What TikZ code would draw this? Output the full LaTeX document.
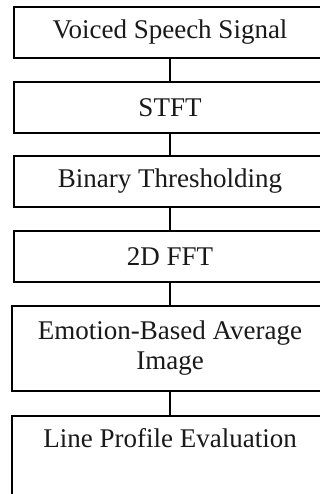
\documentclass[tikz,border=0pt]{standalone}
\usepackage{fontspec}
\setmainfont{Liberation Serif}
\begin{document}
\begin{tikzpicture}[x=1pt,y=-1pt,
  box/.style={draw=black, line width=1.8pt, rectangle, inner sep=0pt, minimum width=312pt, minimum height=51pt, align=center, font=\fontsize{27pt}{30pt}\selectfont, text=black!90},
  lbl/.style={inner sep=0pt, font=\fontsize{27pt}{30pt}\selectfont, text=black!90},
  link/.style={draw=black, line width=1.8pt}]
\clip (0,0) rectangle (320,494);
\fill[white] (0,0) rectangle (320,494);
\node[box] (b1) at (170,32.5) {Voiced Speech Signal};
\node[box] (b2) at (170,107.5) {STFT};
\node[box] (b3) at (170,181.5) {Binary Thresholding};
\node[box] (b4) at (170,256.5) {2D FFT};
\node[box, minimum width=316pt, minimum height=85pt] (b5) at (170,348.5) {Emotion-Based Average\\Image};
\node[box, minimum width=316pt, minimum height=130pt, anchor=north] (b6) at (170,415) {};
\node[lbl] (t6) at ([yshift=-23pt]b6.north) {Line Profile Evaluation};
\draw[link] (b1.south) -- (b2.north);
\draw[link] (b2.south) -- (b3.north);
\draw[link] (b3.south) -- (b4.north);
\draw[link] (b4.south) -- (b5.north);
\draw[link] (b5.south) -- (b6.north);
\end{tikzpicture}
\end{document}
